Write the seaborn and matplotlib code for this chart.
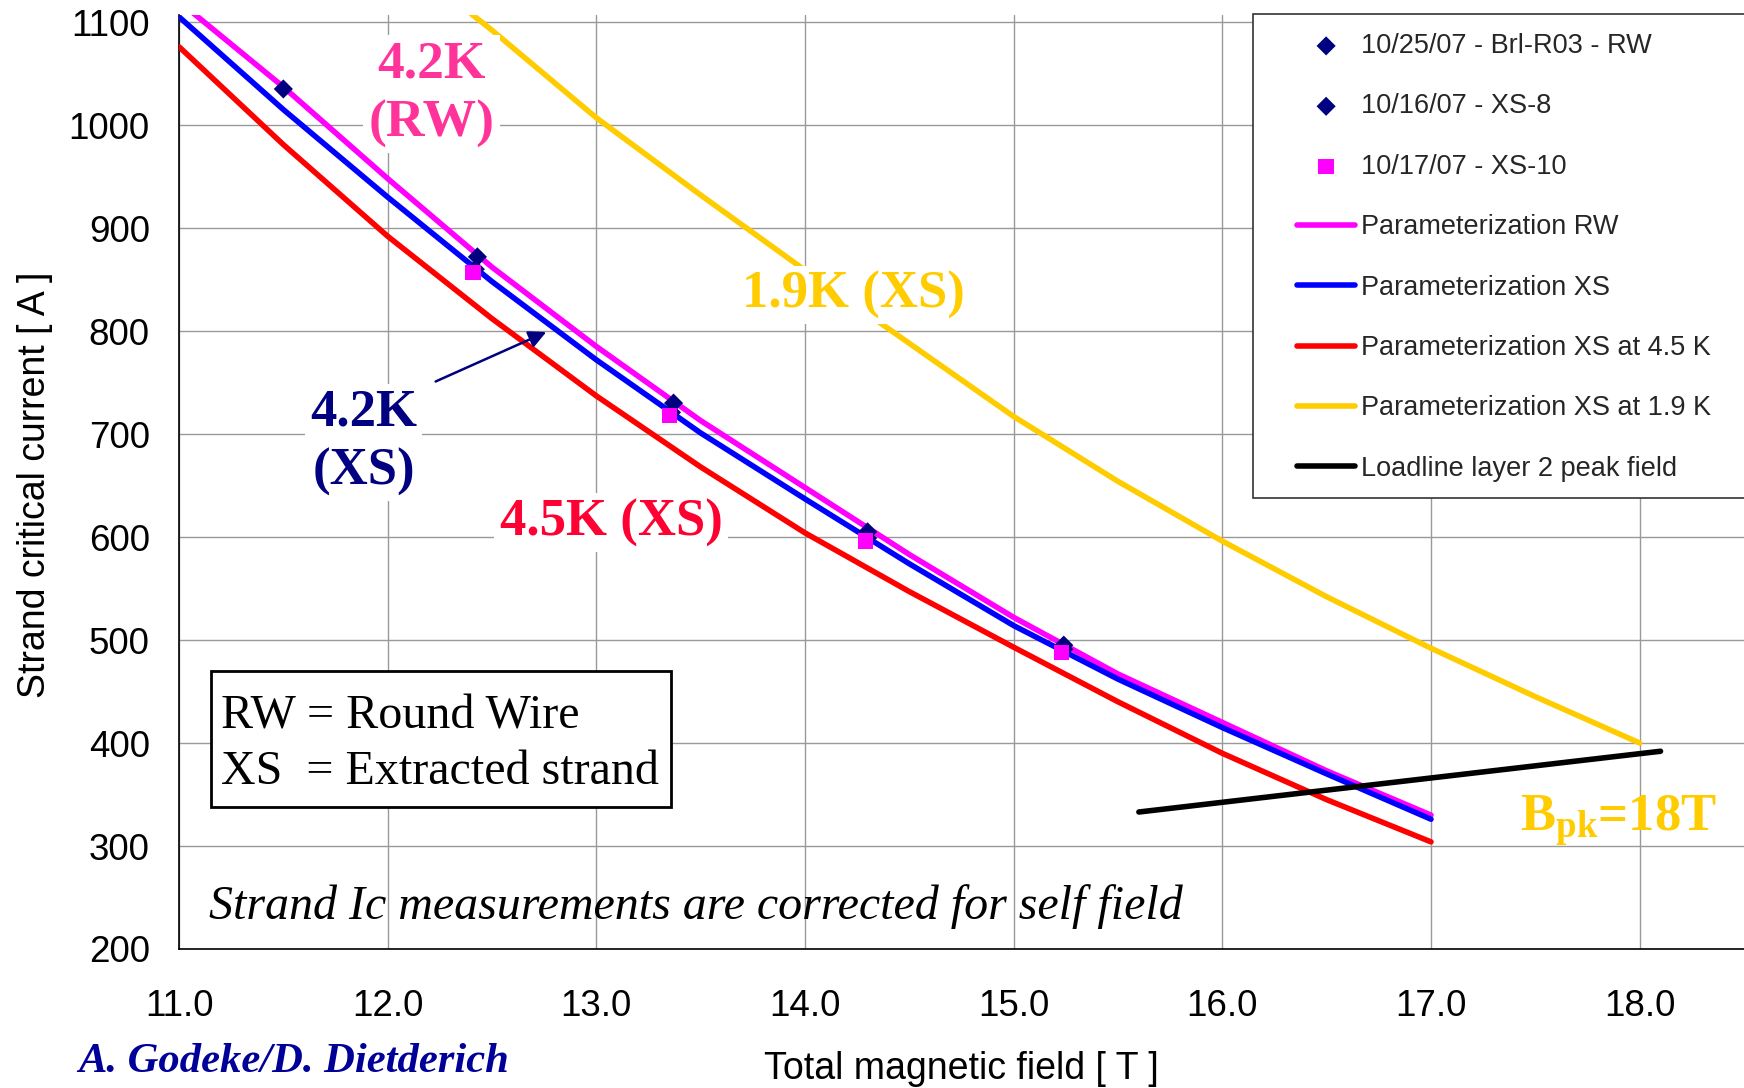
import numpy as np
import pandas as pd
import matplotlib
matplotlib.use("Agg")
import matplotlib.pyplot as plt
from matplotlib.patches import Rectangle
from matplotlib.ticker import FormatStrFormatter
import seaborn as sns

# Parameterized strand critical current curves [A] vs total field [T]
field_grid = [11.0, 11.5, 12.0, 12.5, 13.0, 13.5, 14.0, 14.5, 15.0, 15.5, 16.0, 16.5, 17.0]
ic_param_rw = [1120, 1037, 948, 862, 785, 713, 648, 583, 522, 467, 420, 373, 330]
ic_param_xs = [1105, 1015, 930, 848, 772, 701, 637, 574, 514, 462, 415, 370, 326]
ic_param_xs_45 = [1076, 981, 892, 812, 737, 668, 604, 547, 493, 440, 390, 345, 304]

field_grid_19 = [12.4, 12.5, 13.0, 13.5, 14.0, 14.5, 15.0, 15.5, 16.0, 16.5, 17.0, 17.5, 18.0]
ic_param_xs_19 = [1108, 1092, 1007, 932, 859, 788, 717, 654, 596, 542, 492, 445, 400]

# Magnet load line (layer 2 peak field)
loadline_field = [15.6, 18.1]
loadline_ic = [333, 392]

# Measured strand data
rw_field = [11.5, 12.43, 13.37, 14.3, 15.24]
ic_rw = [1035, 872, 730, 605, 495]
xs8_field = [12.42, 13.36, 14.3, 15.24]
ic_xs8 = [860, 721, 599, 491]
xs10_field = [12.41, 13.35, 14.29, 15.23]
ic_xs10 = [857, 718, 596, 488]

x_ticks = [11.0, 12.0, 13.0, 14.0, 15.0, 16.0, 17.0, 18.0]
y_ticks = [200, 300, 400, 500, 600, 700, 800, 900, 1000, 1100]

sns.set_style("white")
plt.rcParams["font.family"] = ["Liberation Sans", "DejaVu Sans"]
plt.rcParams["mathtext.fontset"] = "custom"
plt.rcParams["mathtext.rm"] = "Liberation Serif"
plt.rcParams["mathtext.bf"] = "Liberation Serif:bold"

W, H = 1744, 1088
fig = plt.figure(figsize=(W / 100, H / 100), dpi=100)
ax = fig.add_axes([179 / W, 1 - 949 / H, (W - 179) / W, (949 - 14.8) / H])

LW = 4.0
line_specs = [
    (field_grid, ic_param_rw, "#FF00FF", "Parameterization RW"),
    (field_grid, ic_param_xs, "#0000FF", "Parameterization XS"),
    (field_grid, ic_param_xs_45, "#FF0000", "Parameterization XS at 4.5 K"),
    (field_grid_19, ic_param_xs_19, "#FFCC00", "Parameterization XS at 1.9 K"),
    (loadline_field, loadline_ic, "#000000", "Loadline layer 2 peak field"),
]
for xs, ys, col, lab in line_specs:
    sns.lineplot(x=xs, y=ys, color=col, linewidth=LW, label=lab, ax=ax,
                 sort=False, zorder=3)
for ln in ax.lines:
    ln.set_linewidth(LW)
    ln.set_solid_capstyle("round")

sns.scatterplot(x=rw_field, y=ic_rw, marker="D", s=95, color="#000080",
                edgecolor="none", label="10/25/07 - Brl-R03 - RW", ax=ax, zorder=4)
sns.scatterplot(x=xs8_field, y=ic_xs8, marker="D", s=95, color="#000080",
                edgecolor="none", label="10/16/07 - XS-8", ax=ax, zorder=4)
sns.scatterplot(x=xs10_field, y=ic_xs10, marker="s", s=125, color="#FF00FF",
                edgecolor="none", label="10/17/07 - XS-10", ax=ax, zorder=4)

ax.set_xlim(11.0, 18.5)
ax.set_ylim(200, 1107)
ax.set_xticks(x_ticks)
ax.set_yticks(y_ticks)
ax.xaxis.set_major_formatter(FormatStrFormatter("%.1f"))
ax.grid(True, color="#999999", lw=1.0, zorder=0)
ax.set_axisbelow(True)
for side in ("top", "right"):
    ax.spines[side].set_visible(False)
for side in ("left", "bottom"):
    ax.spines[side].set_color("black")
    ax.spines[side].set_linewidth(1.2)
ax.tick_params(axis="both", direction="out", length=8, width=1.0, color="black",
               labelsize=26.5, labelcolor="black")
ax.tick_params(axis="x", pad=21)
ax.tick_params(axis="y", pad=13)

ax.set_xlabel("Total magnetic field [ T ]", fontsize=27, color="black")
ax.set_ylabel("Strand critical current [ A ]", fontsize=27, color="black")
ax.xaxis.label.set_va("center")
ax.yaxis.label.set_va("center")
ax.xaxis.set_label_coords(0.5, -(1069 - 949) / 934.2)
ax.yaxis.set_label_coords((35 - 179) / 1565, (949 - 485) / 934.2)

# Legend: frame drawn separately so it runs off the right edge
handles, labels = ax.get_legend_handles_labels()
order = ["10/25/07 - Brl-R03 - RW", "10/16/07 - XS-8", "10/17/07 - XS-10",
         "Parameterization RW", "Parameterization XS",
         "Parameterization XS at 4.5 K", "Parameterization XS at 1.9 K",
         "Loadline layer 2 peak field"]
hmap = dict(zip(labels, handles))
ax.add_patch(Rectangle((1253 / W, 1 - 498 / H), (W - 1253 + 10) / W, (498 - 14) / H,
                       transform=fig.transFigure, facecolor="white",
                       edgecolor="#333333", lw=1.2, clip_on=False, zorder=6))
leg = ax.legend([hmap[k] for k in order], order, loc="upper left",
                bbox_to_anchor=(1297 / W, 1 - 33 / H), bbox_transform=fig.transFigure,
                frameon=False, borderpad=0, fontsize=19.5, handlelength=2.15,
                handletextpad=0.22, labelspacing=1.27, borderaxespad=0)
leg.set_zorder(7)
for ln in leg.get_lines():
    ln.set_linewidth(LW)

serif = ["Liberation Serif", "DejaVu Serif"]
white_box = dict(boxstyle="square,pad=0.1", fc="white", ec="none")
ax.text(12.21, 1030, "4.2K\n(RW)", color="#FF3399", fontsize=38.5, fontweight="bold",
        family=serif, ha="center", va="center", linespacing=1.3, bbox=white_box, zorder=5)
ax.text(14.23, 835, "1.9K (XS)", color="#FFCC00", fontsize=38, fontweight="bold",
        family=serif, ha="center", va="center", bbox=white_box, zorder=5)
ax.text(11.885, 692, "4.2K\n(XS)", color="#000080", fontsize=38, fontweight="bold",
        family=serif, ha="center", va="center", linespacing=1.3, bbox=white_box, zorder=5)
ax.text(13.07, 614, "4.5K (XS)", color="#FF0033", fontsize=38, fontweight="bold",
        family=serif, ha="center", va="center", bbox=white_box, zorder=5)
ax.annotate("", xy=(12.76, 799), xytext=(12.23, 751),
            arrowprops=dict(arrowstyle="-|>", color="#000080", lw=1.8,
                            mutation_scale=26, shrinkA=0, shrinkB=0), zorder=5)
ax.text(17.9, 325, r"$\mathbf{B_{pk}}$=18T", color="#FFCC00", fontsize=38,
        fontweight="bold", family=serif, ha="center", va="center", zorder=5)

# Abbreviation key in a framed box
ax.add_patch(Rectangle((11.153, 338), 13.359 - 11.153, 470 - 338, facecolor="white",
                       edgecolor="black", lw=2.0, zorder=5))
ax.text(11.2, 399, "RW = Round Wire\nXS  = Extracted strand", color="black",
        fontsize=34.6, family=serif, ha="left", va="center", linespacing=1.35, zorder=6)
ax.text(11.145, 241, "Strand Ic measurements are corrected for self field",
        color="black", fontsize=34.6, family=serif, style="italic",
        ha="left", va="center", zorder=5)

fig.text(78 / W, 1 - 1062 / H, "A. Godeke/D. Dietderich", color="#000099",
         fontsize=30.7, family=serif, style="italic", fontweight="bold",
         ha="left", va="center")

fig.savefig("out.png", dpi=100, facecolor="white")
